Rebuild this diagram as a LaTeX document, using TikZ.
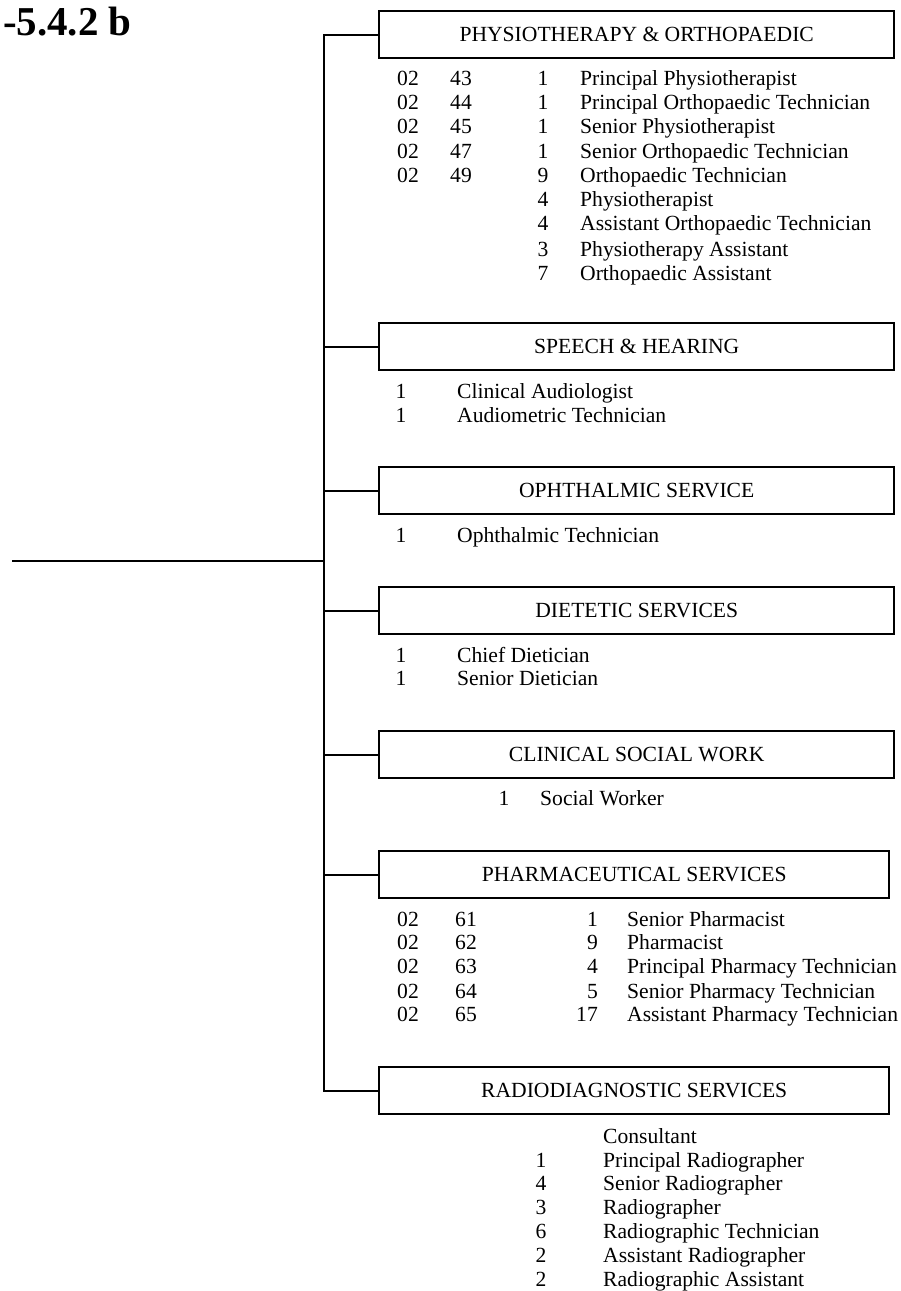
\documentclass[tikz,border=0pt]{standalone}
\usepackage{fontspec}
\setmainfont{Liberation Serif}
\newcommand\listfont{\fontsize{21.6}{24}\selectfont}
\newcommand\headfont{\fontsize{41}{45}\selectfont\bfseries}
\begin{document}
\begin{tikzpicture}[x=1pt,y=-1pt,
  wire/.style={line width=2.4pt,line join=miter},
  dept/.style={draw,line width=2.4pt,anchor=north west,inner sep=0pt,
    minimum height=47pt,font=\listfont},
  wide/.style={minimum width=515pt},
  narrow/.style={minimum width=510pt},
  entry/.style={anchor=base west,inner sep=0pt,font=\listfont},
  count/.style={anchor=base,inner sep=0pt,font=\listfont},
  countr/.style={anchor=base east,inner sep=0pt,font=\listfont}]
\useasboundingbox (0,0) rectangle (901,1291);
\clip (0,0) rectangle (901,1291);

% heading
\node[anchor=base east,inner sep=0pt,font=\headfont] (heading) at (132,35) {-5.4.2 b};

% department boxes
\node[dept,wide]   (physio) at (378,10)   {PHYSIOTHERAPY \& ORTHOPAEDIC};
\node[dept,wide]   (speech) at (378,322)  {SPEECH \& HEARING};
\node[dept,wide]   (ophth)  at (378,466)  {OPHTHALMIC SERVICE};
\node[dept,wide]   (diet)   at (378,586)  {DIETETIC SERVICES};
\node[dept,wide]   (social) at (378,730)  {CLINICAL SOCIAL WORK};
\node[dept,narrow] (pharm)  at (378,850)  {PHARMACEUTICAL SERVICES};
\node[dept,narrow] (radio)  at (378,1066) {RADIODIAGNOSTIC SERVICES};

% trunk and branches
\coordinate (trunk) at (324,0);
\coordinate (source) at (12,561);
\draw[wire] (physio.west) -| (radio.west -| trunk) -- (radio.west);
\foreach \d in {speech,ophth,diet,social,pharm}
  \draw[wire] (\d.west) -- (\d.west -| trunk);
\draw[wire] (source) -- (source -| trunk);

% physiotherapy & orthopaedic posts
\foreach \y/\a/\b [count=\i] in {78/02/43,102/02/44,126/02/45,151/02/47,175/02/49} {
  \node[entry] (phA\i) at (397,\y+7) {\a};
  \node[entry] (phB\i) at (450,\y+7) {\b};
}
\foreach \y/\n/\t [count=\i] in {78/1/Principal Physiotherapist,
    102/1/Principal Orthopaedic Technician,126/1/Senior Physiotherapist,
    151/1/Senior Orthopaedic Technician,175/9/Orthopaedic Technician,
    199/4/Physiotherapist,223/4/Assistant Orthopaedic Technician,
    249/3/Physiotherapy Assistant,273/7/Orthopaedic Assistant} {
  \node[count] (phN\i) at (543,\y+7) {\n};
  \node[entry] (phT\i) at (580,\y+7) {\t};
}

% speech & hearing
\foreach \y/\t [count=\i] in {391/Clinical Audiologist,415/Audiometric Technician} {
  \node[count] (shN\i) at (401,\y+7) {1};
  \node[entry] (shT\i) at (457,\y+7) {\t};
}

% ophthalmic service
\node[count] (opN1) at (401,542) {1};
\node[entry] (opT1) at (457,542) {Ophthalmic Technician};

% dietetic services
\foreach \y/\t [count=\i] in {655/Chief Dietician,678/Senior Dietician} {
  \node[count] (dtN\i) at (401,\y+7) {1};
  \node[entry] (dtT\i) at (457,\y+7) {\t};
}

% clinical social work
\node[count] (swN1) at (504,805) {1};
\node[entry] (swT1) at (540,805) {Social Worker};

% pharmaceutical services
\foreach \y/\b/\n/\t [count=\i] in {919/61/1/Senior Pharmacist,942/62/9/Pharmacist,
    966/63/4/Principal Pharmacy Technician,991/64/5/Senior Pharmacy Technician,
    1014/65/17/Assistant Pharmacy Technician} {
  \node[entry]  (psA\i) at (397,\y+7) {02};
  \node[entry]  (psB\i) at (455,\y+7) {\b};
  \node[countr] (psN\i) at (598,\y+7) {\n};
  \node[entry]  (psT\i) at (627,\y+7) {\t};
}

% radiodiagnostic services
\node[entry] (rdT0) at (603,1143) {Consultant};
\foreach \y/\n/\t [count=\i] in {1160/1/Principal Radiographer,1183/4/Senior Radiographer,
    1207/3/Radiographer,1231/6/Radiographic Technician,
    1255/2/Assistant Radiographer,1279/2/Radiographic Assistant} {
  \node[count] (rdN\i) at (541,\y+7) {\n};
  \node[entry] (rdT\i) at (603,\y+7) {\t};
}
\end{tikzpicture}
\end{document}
